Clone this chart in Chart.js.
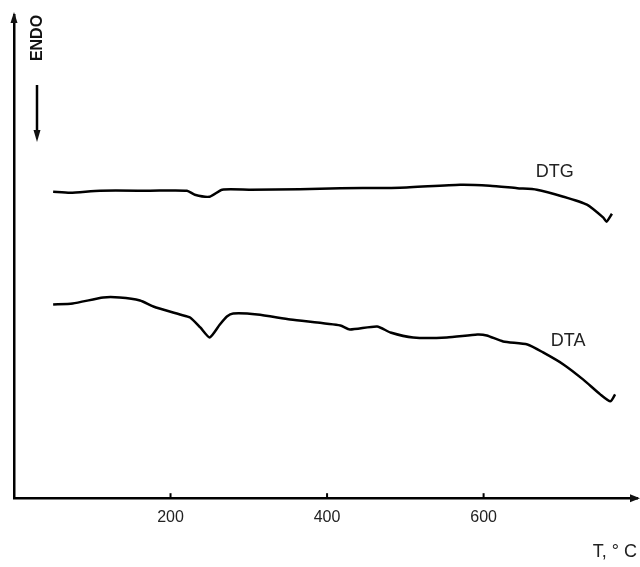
<!DOCTYPE html>
<html>
<head>
<meta charset="utf-8">
<script src="https://cdn.jsdelivr.net/npm/chart.js@4"></script>
<style>
  html, body { margin: 0; padding: 0; background: #fff; }
  #wrap { width: 640px; height: 567px; }
</style>
</head>
<body>
<div id="wrap"><canvas id="grafico"></canvas></div>
<script>
// temperatura (°C) e sinal (unidades arbitrárias)
const tempDTG = [50, 72, 110, 174, 221, 231, 250, 266, 302, 365, 417, 493, 570, 608, 643, 668, 702, 732, 753, 757, 764];
const sinalDTG = [307, 306, 308, 308, 308, 304, 302, 309, 309, 309.5, 310.5, 311, 314, 313, 310.5, 309, 302, 294, 281, 277, 285];

const tempDTA = [50, 75, 114, 135, 161, 178, 212, 225, 238, 250, 263, 272, 280, 311, 353, 417, 429, 464, 481, 510, 553, 592, 604, 625, 656, 676, 702, 727, 749, 762, 768];
const sinalDTA = [194, 195, 201, 201, 198, 192, 184, 181, 171, 161, 174, 182, 185, 184, 179, 173, 169, 172, 166, 161, 161, 164, 163, 157, 154, 146, 134, 119, 104, 97, 104];

const ticksX = [200, 400, 600];
const rotulos = [
    { texto: 'DTG', t: 691, v: 327 },
    { texto: 'DTA', t: 708, v: 157 }
];

function pontos(xs, ys) {
    return xs.map((x, i) => ({ x: x, y: ys[i] }));
}

// setas dos eixos, marcas internas, rótulos das curvas e "ENDO"
const extras = {
    id: 'extras',
    afterDraw(chart) {
        const ctx = chart.ctx;
        const sx = chart.scales.x, sy = chart.scales.y;
        const area = chart.chartArea;
        ctx.save();
        ctx.fillStyle = '#111';
        ctx.strokeStyle = '#000';
        ctx.lineWidth = 2;

        // marcas de escala para dentro
        for (let t of ticksX) {
            let px = sx.getPixelForValue(t);
            ctx.beginPath();
            ctx.moveTo(px, area.bottom);
            ctx.lineTo(px, area.bottom - 5);
            ctx.stroke();
        }

        // seta do eixo x
        ctx.beginPath();
        ctx.moveTo(area.right + 3, area.bottom);
        ctx.lineTo(area.right - 7, area.bottom - 4);
        ctx.lineTo(area.right - 7, area.bottom + 4);
        ctx.closePath();
        ctx.fill();

        // seta do eixo y
        ctx.beginPath();
        ctx.moveTo(area.left, area.top - 3);
        ctx.lineTo(area.left - 3.5, area.top + 8);
        ctx.lineTo(area.left + 3.5, area.top + 8);
        ctx.closePath();
        ctx.fill();

        // ENDO
        ctx.font = 'bold 16px "Liberation Sans", Arial, sans-serif';
        ctx.textAlign = 'center';
        ctx.textBaseline = 'middle';
        ctx.save();
        ctx.translate(38, 38);
        ctx.rotate(-Math.PI / 2);
        ctx.fillText('ENDO', 0, 0);
        ctx.restore();
        ctx.lineWidth = 2.5;
        ctx.beginPath();
        ctx.moveTo(37, 85);
        ctx.lineTo(37, 132);
        ctx.stroke();
        ctx.beginPath();
        ctx.moveTo(37, 142);
        ctx.lineTo(33.5, 130);
        ctx.lineTo(40.5, 130);
        ctx.closePath();
        ctx.fill();

        // rótulos das curvas
        ctx.font = '18px "Liberation Sans", Arial, sans-serif';
        ctx.fillStyle = '#222';
        for (let r of rotulos) {
            ctx.fillText(r.texto, sx.getPixelForValue(r.t), sy.getPixelForValue(r.v));
        }
        ctx.restore();
    }
};

new Chart(document.getElementById('grafico'), {
    type: 'line',
    data: {
        datasets: [{
            label: 'DTG',
            data: pontos(tempDTG, sinalDTG),
            borderColor: '#000',
            borderWidth: 2.5,
            pointRadius: 0,
            tension: 0.2,
            fill: false
        }, {
            label: 'DTA',
            data: pontos(tempDTA, sinalDTA),
            borderColor: '#000',
            borderWidth: 2.5,
            pointRadius: 0,
            tension: 0.2,
            fill: false
        }]
    },
    plugins: [extras],
    options: {
        responsive: true,
        maintainAspectRatio: false,
        animation: false,
        layout: { padding: { left: 14, right: 3, top: 15, bottom: 4 } },
        plugins: {
            legend: { display: false },
            tooltip: { enabled: false }
        },
        scales: {
            x: {
                type: 'linear',
                min: 0,
                max: 796,
                afterBuildTicks(axis) {
                    axis.ticks = ticksX.map(v => ({ value: v }));
                },
                grid: { drawOnChartArea: false, drawTicks: false },
                border: { color: '#000', width: 2.5 },
                ticks: {
                    color: '#222',
                    padding: 10,
                    font: { size: 16, family: '"Liberation Sans", Arial, sans-serif' }
                },
                title: {
                    display: true,
                    text: 'T, ° C',
                    align: 'end',
                    color: '#222',
                    padding: { top: 4, bottom: 0 },
                    font: { size: 18, family: '"Liberation Sans", Arial, sans-serif' }
                }
            },
            y: {
                min: 0,
                max: 484,
                grid: { drawOnChartArea: false, drawTicks: false },
                border: { color: '#000', width: 2.5 },
                ticks: { display: false }
            }
        }
    }
});
</script>
</body>
</html>
